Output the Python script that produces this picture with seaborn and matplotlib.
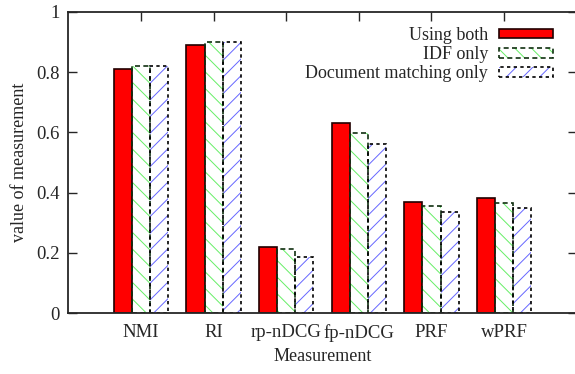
import matplotlib
matplotlib.use("Agg")
import matplotlib.pyplot as plt
import seaborn as sns
import pandas as pd
from matplotlib.patches import Patch
from matplotlib.legend_handler import HandlerTuple

categories = ["NMI", "RI", "rp-nDCG", "fp-nDCG", "PRF", "wPRF"]
methods = ["Using both", "IDF only", "Document matching only"]
using_both = [0.810, 0.891, 0.221, 0.632, 0.370, 0.381]
idf_only = [0.821, 0.899, 0.212, 0.597, 0.357, 0.366]
doc_matching_only = [0.821, 0.899, 0.188, 0.560, 0.335, 0.348]
y_ticks = [0, 0.2, 0.4, 0.6, 0.8, 1.0]
y_tick_labels = ["0", "0.2", "0.4", "0.6", "0.8", "1"]

rows = []
for m, vals in zip(methods, [using_both, idf_only, doc_matching_only]):
    for c, v in zip(categories, vals):
        rows.append({"Measurement": c, "value": v, "method": m})
df = pd.DataFrame(rows)

sns.set_style("ticks")
plt.rcParams["font.family"] = ["Liberation Serif", "DejaVu Serif"]
plt.rcParams["hatch.linewidth"] = 0.7

fig = plt.figure(figsize=(5.75, 3.74), dpi=100)
ax = fig.add_axes([0.119, 0.1623, 1.003 - 0.119, 0.9687 - 0.1623])

face_colors = ["#ff0000", "white", "white"]
hatch_colors = ["#ff0000", "#66ee66", "#6666ff"]
hatches = [None, "\\\\", "//"]
edge_styles = ["-", (0, (3, 2)), (0, (2, 2))]
edge_colors = ["#200000", "#103010", "black"]

# fill / hatch layer
sns.barplot(data=df, x="Measurement", y="value", hue="method", order=categories,
            hue_order=methods, width=0.75, dodge=True, ax=ax, legend=False,
            palette=face_colors, saturation=1, linewidth=0, errorbar=None)
for cont, fc, hc, h in zip(ax.containers, face_colors, hatch_colors, hatches):
    for p in cont:
        p.set_facecolor(fc)
        p.set_edgecolor(hc)
        p.set_linewidth(0)
        if h:
            p.set_hatch(h)
n_fill = len(ax.containers)

# outline layer
sns.barplot(data=df, x="Measurement", y="value", hue="method", order=categories,
            hue_order=methods, width=0.75, dodge=True, ax=ax, legend=False,
            fill=False, errorbar=None, palette=["black"] * 3)
for cont, ls, ec in zip(ax.containers[n_fill:], edge_styles, edge_colors):
    for p in cont:
        p.set_edgecolor(ec)
        p.set_linestyle(ls)
        p.set_linewidth(1.2)
        p.set_facecolor("none")

ax.set_xlim(-1, 6)
ax.set_ylim(0, 1)
ax.set_yticks(y_ticks)
ax.set_yticklabels(y_tick_labels)
ax.set_xlabel("Measurement", fontsize=13, labelpad=4)
ax.set_ylabel("value of measurement", fontsize=13, labelpad=6)

for s in ax.spines.values():
    s.set_visible(True)
    s.set_linewidth(1.3)
ax.tick_params(axis="y", direction="in", length=6.5, width=1, left=True, right=True,
               labelsize=13.5, pad=6)
ax.tick_params(axis="x", direction="in", length=6.5, width=1, top=True, bottom=False,
               labelsize=13.5, pad=8)

handles = []
for fc, hc, h, ls, ec in zip(face_colors, hatch_colors, hatches, edge_styles, edge_colors):
    p1 = Patch(facecolor=fc, edgecolor=hc, hatch=h, linewidth=0)
    p2 = Patch(facecolor="none", edgecolor=ec, linestyle=ls, linewidth=1.2)
    handles.append((p1, p2))
ax.legend(handles, methods, loc="upper right", bbox_to_anchor=(0.975, 0.985),
          frameon=False, markerfirst=False, fontsize=13, handlelength=3.0,
          handleheight=0.45, labelspacing=0.12, handletextpad=0.6,
          borderaxespad=0.2, handler_map={tuple: HandlerTuple(ndivide=1)})

fig.savefig("out.png", dpi=100)
